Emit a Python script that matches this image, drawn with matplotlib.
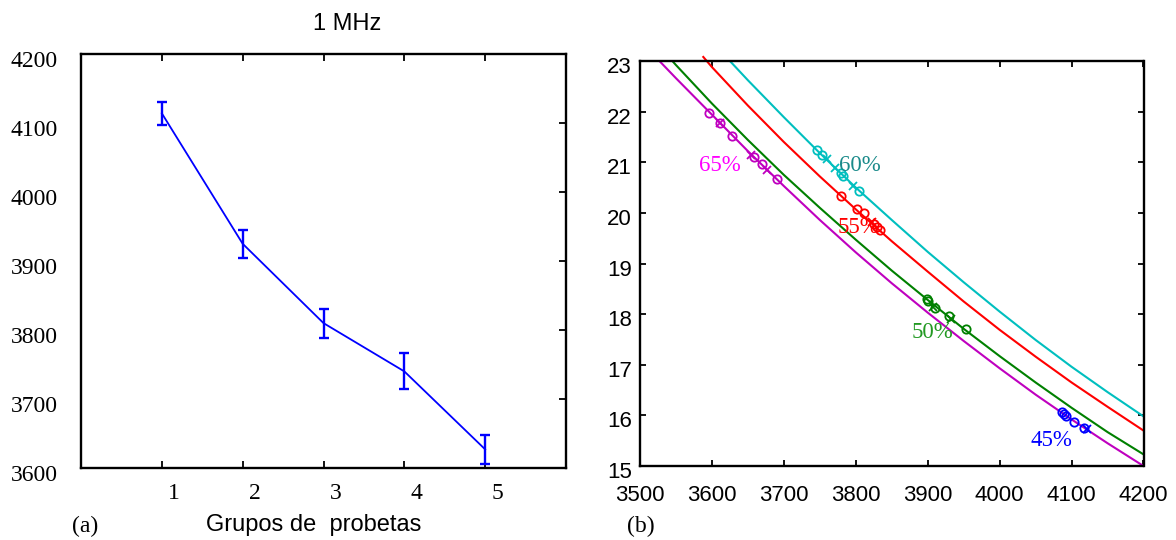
import matplotlib
matplotlib.use("Agg")
import matplotlib.pyplot as plt
from matplotlib.transforms import ScaledTranslation

# ---------------- data: panel (a) ----------------
groups = [1, 2, 3, 4, 5]
group_labels = ["1", "2", "3", "4", "5"]
velocity = [4114, 3925, 3810, 3740, 3627]
velocity_err = [17, 20, 21, 26, 21]
a_yticks = [3600, 3700, 3800, 3900, 4000, 4100, 4200]

# ---------------- data: panel (b) ----------------
curve65_x = [3527, 3550, 3600, 3650, 3700, 3750, 3800, 3850, 3900, 3950, 4000, 4050, 4100, 4150, 4200]
curve65_y = [23.0, 22.66, 21.94, 21.22, 20.53, 19.86, 19.22, 18.61, 18.03, 17.47, 16.93, 16.41, 15.92, 15.45, 15.0]
curve50_x = [3545, 3550, 3600, 3650, 3700, 3750, 3800, 3850, 3900, 3950, 4000, 4050, 4100, 4150, 4200]
curve50_y = [23.0, 22.92, 22.16, 21.44, 20.75, 20.10, 19.47, 18.86, 18.28, 17.71, 17.17, 16.65, 16.15, 15.67, 15.23]
curve55_x = [3588, 3600, 3650, 3700, 3750, 3800, 3850, 3900, 3950, 4000, 4050, 4100, 4150, 4200]
curve55_y = [23.08, 22.88, 22.12, 21.40, 20.72, 20.07, 19.44, 18.84, 18.25, 17.69, 17.16, 16.65, 16.17, 15.70]
curve60_x = [3625, 3650, 3700, 3750, 3800, 3850, 3900, 3950, 4000, 4050, 4100, 4150, 4200]
curve60_y = [23.0, 22.62, 21.89, 21.18, 20.50, 19.86, 19.23, 18.63, 18.05, 17.49, 16.96, 16.46, 15.98]

pts65_o_x = [3596, 3611, 3628, 3659, 3669, 3690]
pts65_o_y = [21.97, 21.77, 21.52, 21.10, 20.96, 20.66]
pts65_x_x = [3611, 3655, 3676]
pts65_x_y = [21.77, 21.14, 20.85]
pts60_o_x = [3746, 3753, 3779, 3782, 3804]
pts60_o_y = [21.24, 21.15, 20.78, 20.72, 20.44]
pts60_x_x = [3760, 3771, 3796]
pts60_x_y = [21.06, 20.88, 20.54]
pts55_o_x = [3780, 3801, 3812, 3825, 3829, 3834]
pts55_o_y = [20.33, 20.07, 19.99, 19.79, 19.72, 19.67]
pts55_x_x = [3822]
pts55_x_y = [19.82]
pts50_o_x = [3899, 3901, 3910, 3929, 3953]
pts50_o_y = [18.29, 18.26, 18.12, 17.96, 17.70]
pts50_x_x = [3908, 3933]
pts50_x_y = [18.15, 17.90]
pts45_o_x = [4086, 4090, 4092, 4104, 4117]
pts45_o_y = [16.06, 16.02, 15.99, 15.87, 15.76]
pts45_x_x = [4121]
pts45_x_y = [15.73]

pct_labels = ["65%", "60%", "55%", "50%", "45%"]
pct_x = [3611, 3806, 3804, 3906, 4072]
pct_y = [20.94, 20.94, 19.72, 17.63, 15.51]

b_xticks = [3500, 3600, 3700, 3800, 3900, 4000, 4100, 4200]
b_yticks = [15, 16, 17, 18, 19, 20, 21, 22, 23]

# ---------------- styling ----------------
SERIF = "Liberation Serif"
SANS = "Liberation Sans"
W, H = 1176, 540
fig = plt.figure(figsize=(W / 100, H / 100), dpi=100)

def px_rect(l, t, r, b):
    return [l / W, 1 - b / H, (r - l) / W, (b - t) / H]

# ---------------- panel (a) ----------------
ax1 = fig.add_axes(px_rect(81, 54, 566, 468))
ax1.errorbar(groups, velocity, yerr=velocity_err, color="#0000ff", lw=1.3,
             elinewidth=1.7, capsize=3.5, capthick=1.7)
ax1.set_xlim(0, 6)
ax1.set_ylim(3600, 4200)
ax1.set_xticks(groups)
ax1.set_xticklabels(group_labels, fontfamily=SERIF, fontsize=17)
ax1.set_yticks(a_yticks)
ax1.set_yticklabels([str(v) for v in a_yticks], fontfamily=SERIF, fontsize=17)
ax1.tick_params(axis="x", direction="in", top=True, bottom=True, length=5, width=1.3, pad=11)
ax1.tick_params(axis="y", direction="in", left=False, right=True, length=5, width=1.3, pad=17)
for s in ax1.spines.values():
    s.set_linewidth(1.7)
for lab in ax1.get_xticklabels():
    lab.set_transform(lab.get_transform() + ScaledTranslation(0.12, 0, fig.dpi_scale_trans))
for lab in ax1.get_yticklabels():
    lab.set_transform(lab.get_transform() + ScaledTranslation(0, -0.05, fig.dpi_scale_trans))

fig.text(347 / W, 1 - 24 / H, "1 MHz", family=SANS, fontsize=17, ha="center", va="center")
fig.text(314 / W, 1 - 531 / H, "Grupos de  probetas", family=SANS, fontsize=17,
         ha="center", va="baseline")
fig.text(72 / W, 1 - 532 / H, "(a)", family=SERIF, fontsize=17, ha="left", va="baseline")

# ---------------- panel (b) ----------------
ax2 = fig.add_axes(px_rect(640, 61, 1143.5, 466))
series = [
    (curve65_x, curve65_y, pts65_o_x, pts65_o_y, pts65_x_x, pts65_x_y, "#bf00bf", "#bf00bf"),
    (curve50_x, curve50_y, pts50_o_x, pts50_o_y, pts50_x_x, pts50_x_y, "#008000", "#008000"),
    (curve55_x, curve55_y, pts55_o_x, pts55_o_y, pts55_x_x, pts55_x_y, "#ff0000", "#ff0000"),
    (curve60_x, curve60_y, pts60_o_x, pts60_o_y, pts60_x_x, pts60_x_y, "#00bfbf", "#00bfbf"),
]
for cx, cy, ox, oy, xx, xy, lc, mc in series:
    ax2.plot(cx, cy, color=lc, lw=1.5, clip_on=(lc != "#ff0000"))
    ax2.plot(ox, oy, ls="none", marker="o", ms=6, mfc="none", mec=mc, mew=1.3)
    ax2.plot(xx, xy, ls="none", marker="x", ms=6, mec=mc, mew=1.3)
ax2.plot(pts45_o_x, pts45_o_y, ls="none", marker="o", ms=6, mfc="none", mec="#0000ff", mew=1.3)
ax2.plot(pts45_x_x, pts45_x_y, ls="none", marker="x", ms=6, mec="#0000ff", mew=1.3)

pct_colors = ["#ff00ff", "#1a8a8a", "#ff0000", "#229922", "#0000ff"]
for t, x, y, c in zip(pct_labels, pct_x, pct_y, pct_colors):
    ax2.text(x, y, t, color=c, family=SERIF, fontsize=16.5, ha="center", va="center")

ax2.set_xlim(3500, 4200)
ax2.set_ylim(15, 23)
ax2.set_xticks(b_xticks)
ax2.set_xticklabels([str(v) for v in b_xticks], fontfamily=SANS, fontsize=16)
ax2.set_yticks(b_yticks)
ax2.set_yticklabels([str(v) for v in b_yticks], fontfamily=SANS, fontsize=16)
ax2.tick_params(axis="both", direction="in", top=True, bottom=True, left=True, right=True,
                length=4.5, width=1.3)
ax2.tick_params(axis="x", pad=14)
ax2.tick_params(axis="y", pad=6)
for s in ax2.spines.values():
    s.set_linewidth(1.7)
for lab in ax2.get_yticklabels():
    lab.set_transform(lab.get_transform() + ScaledTranslation(0, -0.04, fig.dpi_scale_trans))

fig.text(627 / W, 1 - 532 / H, "(b)", family=SERIF, fontsize=17, ha="left", va="baseline")

fig.savefig("out.png", dpi=100)
